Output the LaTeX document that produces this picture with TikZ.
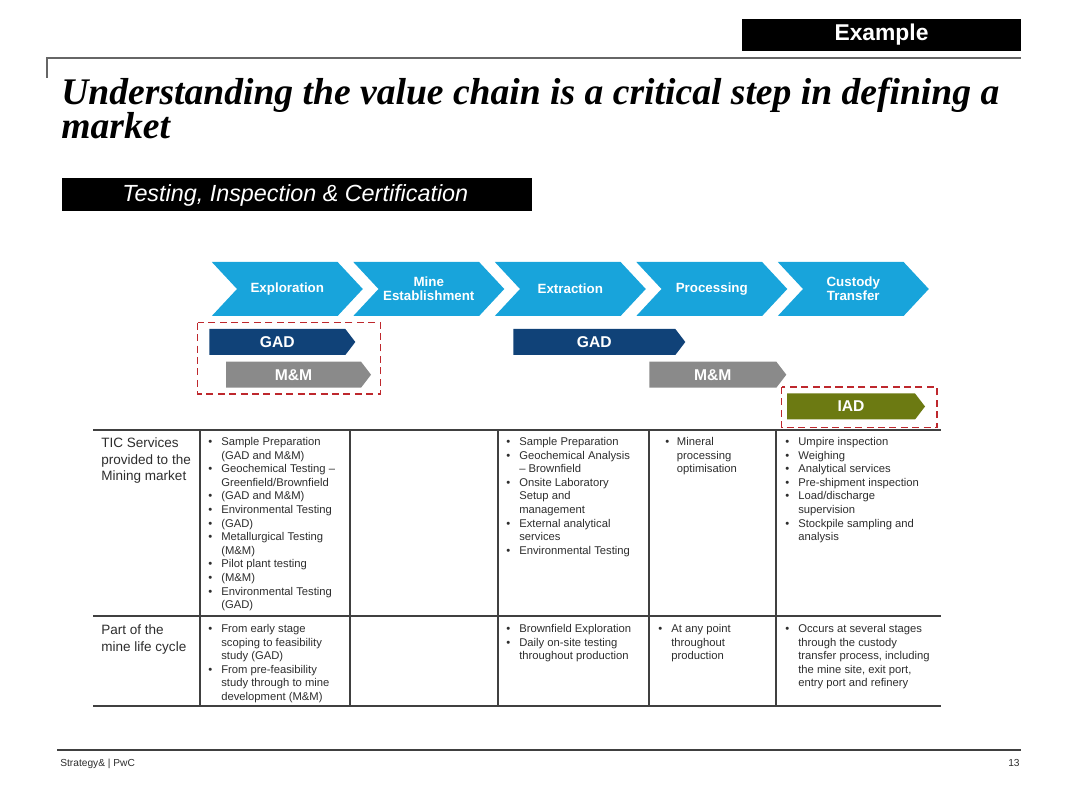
\documentclass[tikz,border=0pt]{standalone}
\usepackage{fontspec}
\setmainfont{Liberation Sans}
\newfontfamily\titlefont{Liberation Serif}
\usetikzlibrary{shapes.symbols}

\definecolor{chevblue}{RGB}{24,164,219}
\definecolor{gadblue}{RGB}{16,66,120}
\definecolor{mmgray}{RGB}{138,138,138}
\definecolor{iadolive}{RGB}{108,122,18}
\definecolor{boxred}{RGB}{190,40,45}
\definecolor{textgray}{RGB}{45,45,45}

\newcommand{\bl}[1][7.4pt]{\makebox[#1][l]{\textbullet}}
\newcommand{\nb}[1][7.4pt]{\hspace*{#1}}

\begin{document}
\begin{tikzpicture}[
    x=0.02cm, y=-0.02cm,
    chevron/.style={signal, signal from=west, signal to=east, signal pointer angle=94, fill=chevblue, minimum width=3.02cm, minimum height=1.08cm, inner sep=0pt, text=white, align=center, font=\bfseries\fontsize{7.6}{8}\selectfont},
    bar/.style={signal, signal to=east, signal pointer angle=105, minimum height=0.52cm, inner sep=0pt, text=white, anchor=west, font=\bfseries\fontsize{8.9}{10}\selectfont},
    dashbox/.style={draw=boxred, line width=0.9pt, dash pattern=on 4pt off 2.5pt},
    cell/.style={anchor=north west, inner sep=0pt, align=left, text=textgray, font=\fontsize{6.4}{7.74}\selectfont},
    rowlabel/.style={anchor=north west, inner sep=0pt, align=left, text=textgray, font=\fontsize{7.7}{9.6}\selectfont},
    hline/.style={draw=black!75, line width=1pt},
    vline/.style={draw=black!75, line width=0.6pt},
    footer/.style={inner sep=0pt, text=textgray, font=\fontsize{5.8}{7}\selectfont},
]
\useasboundingbox (0,0) rectangle (1080,810);

% Header
\node[fill=black, minimum width=5.58cm, minimum height=0.64cm, inner sep=0pt, text=white, font=\bfseries\fontsize{13}{15}\selectfont] (example) at (881.5,35) {Example};
\draw[black!60, line width=0.8pt] (47,78) -- (47,58) -- (1021,58);
\node[anchor=base west, inner sep=0pt, align=left, font=\titlefont\bfseries\itshape\fontsize{21.4}{19.8}\selectfont] (title) at (61,139) {Understanding the value chain is a critical step in defining a\\market};

% Banner
\node[fill=black, minimum width=9.4cm, minimum height=0.66cm, inner sep=0pt] (banner) at (296.7,194.5) {};
\node[anchor=west, inner sep=0pt, text=white, font=\itshape\fontsize{13.3}{15}\selectfont] (banner-text) at (122,195) {Testing, Inspection \& Certification};

% Value chain
\node[chevron] (explo) at (287.3,289) {Exploration};
\node[chevron] (mine) at (428.8,289) {Mine\\Establishment};
\node[chevron] (extract) at (570.3,289) {Extraction};
\node[chevron] (process) at (711.8,289) {Processing};
\node[chevron] (custody) at (853.3,289) {Custody\\Transfer};

% Divisions
\node[bar, fill=gadblue, minimum width=2.92cm] (gad-a) at (209,342) {GAD};
\node[bar, fill=mmgray, minimum width=2.9cm] (mm-a) at (225.7,374.7) {M\&M};
\node[bar, fill=gadblue, minimum width=3.44cm] (gad-b) at (513,342) {GAD};
\node[bar, fill=mmgray, minimum width=2.74cm] (mm-b) at (649,374.7) {M\&M};
\node[bar, fill=iadolive, minimum width=2.76cm] (iad) at (786.7,406.5) {IAD};
\draw[dashbox] (197.7,322.7) rectangle (380.7,394);
\draw[dashbox] (781.7,387) rectangle (937,427.7);

% Table
\draw[hline] (93,430) -- (941,430);
\draw[hline] (93,616) -- (941,616);
\draw[hline] (93,706) -- (941,706);
\draw[vline] (200,430) -- (200,706) (350,430) -- (350,706) (498,430) -- (498,706) (649,430) -- (649,706) (776,430) -- (776,706);

\node[rowlabel] (tic-label) at (101,437) {TIC Services\\provided to the\\Mining market};
\node[cell] (tic-explo) at (208,437) {\bl Sample Preparation\\\nb (GAD and M\&M)\\\bl Geochemical Testing –\\\nb Greenfield/Brownfield\\\bl (GAD and M\&M)\\\bl Environmental Testing\\\bl (GAD)\\\bl Metallurgical Testing\\\nb (M\&M)\\\bl Pilot plant testing\\\bl (M\&M)\\\bl Environmental Testing\\\nb (GAD)};
\node[cell] (tic-extract) at (506,437) {\bl Sample Preparation\\\bl Geochemical Analysis\\\nb – Brownfield\\\bl Onsite Laboratory\\\nb Setup and\\\nb management\\\bl External analytical\\\nb services\\\bl Environmental Testing};
\node[cell] (tic-process) at (665,437) {\bl[4.8pt] Mineral\\\nb[4.8pt] processing\\\nb[4.8pt] optimisation};
\node[cell] (tic-custody) at (785,437) {\bl Umpire inspection\\\bl Weighing\\\bl Analytical services\\\bl Pre-shipment inspection\\\bl Load/discharge\\\nb supervision\\\bl Stockpile sampling and\\\nb analysis};

\node[rowlabel] (life-label) at (101,624) {Part of the\\mine life cycle};
\node[cell] (life-explo) at (208,624) {\bl From early stage\\\nb scoping to feasibility\\\nb study (GAD)\\\bl From pre-feasibility\\\nb study through to mine\\\nb development (M\&M)};
\node[cell] (life-extract) at (506,624) {\bl Brownfield Exploration\\\bl Daily on-site testing\\\nb throughout production};
\node[cell] (life-process) at (658,624) {\bl At any point\\\nb throughout\\\nb production};
\node[cell] (life-custody) at (785,624) {\bl Occurs at several stages\\\nb through the custody\\\nb transfer process, including\\\nb the mine site, exit port,\\\nb entry port and refinery};

% Footer
\draw[black!75, line width=0.8pt] (57,750) -- (1021,750);
\node[footer, anchor=base west] (source) at (60,767) {Strategy\& | PwC};
\node[footer, anchor=base east] (page) at (1020,767) {13};

\end{tikzpicture}
\end{document}
